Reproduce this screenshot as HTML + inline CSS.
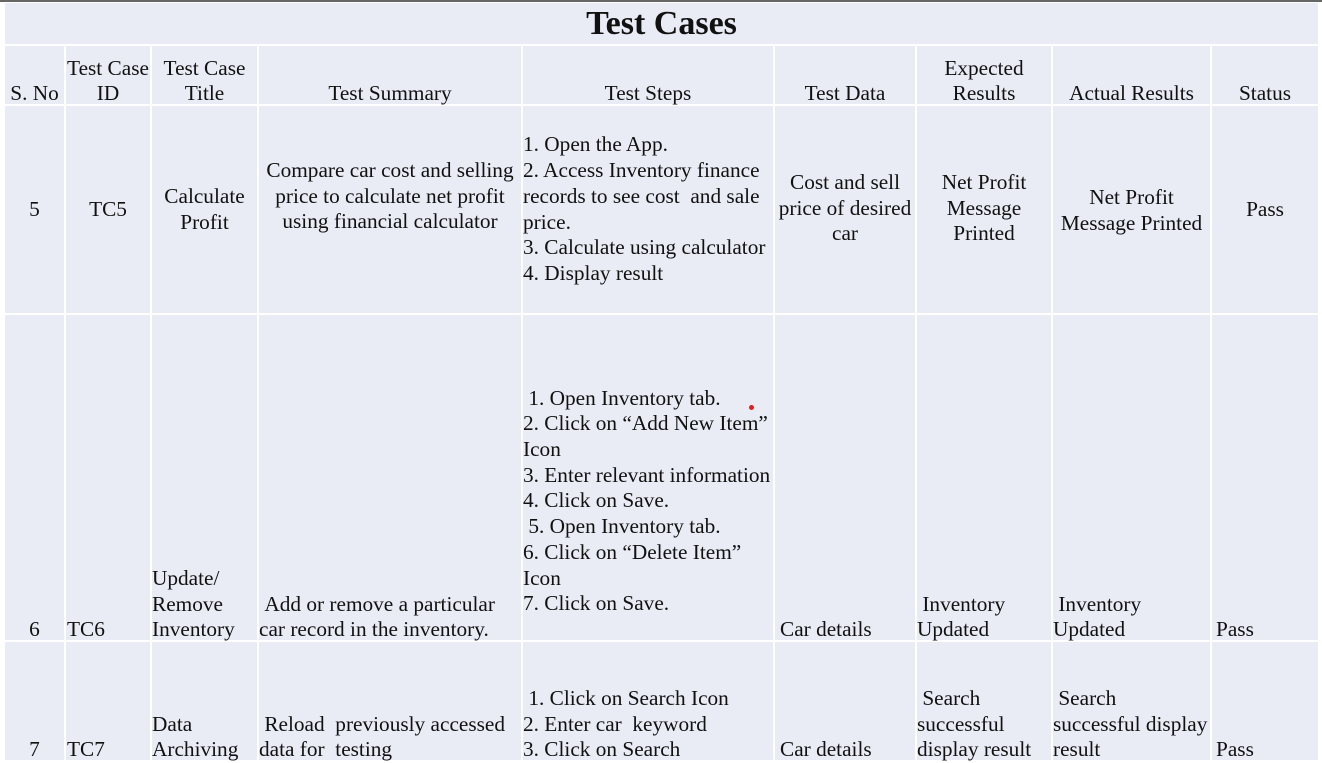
<!DOCTYPE html>
<html><head><style>
body{margin:0;width:1322px;height:763px;background:#fff;position:relative;overflow:hidden;font-family:"Liberation Serif","Times New Roman",serif;font-size:21.3px;color:#111;}
.c{position:absolute;background:#e9ebf5;display:flex;line-height:25.7px;box-sizing:border-box;padding:0 1px;white-space:pre-wrap;}
.c>div{position:relative;top:3px;}
.m>div{top:0;}
.b{align-items:flex-end;}
.m{align-items:center;}
.ctr{justify-content:center;text-align:center;}
.ctr>div{width:100%;}
</style></head><body>
<div style="position:absolute;left:0;top:0;width:1322px;height:2px;background:#666"></div>
<div class="c m ctr" style="left:5px;top:3px;width:1313px;height:41px;font-weight:bold;font-size:34px"><div style="top:0">Test Cases</div></div>

<!-- header -->
<div class="c b ctr" style="left:5px;top:46px;width:59px;height:58px"><div>S. No</div></div>
<div class="c b ctr" style="left:66px;top:46px;width:84px;height:58px"><div>Test Case<br>ID</div></div>
<div class="c b ctr" style="left:152px;top:46px;width:105px;height:58px"><div>Test Case<br>Title</div></div>
<div class="c b ctr" style="left:259px;top:46px;width:262px;height:58px"><div>Test Summary</div></div>
<div class="c b ctr" style="left:523px;top:46px;width:250px;height:58px"><div>Test Steps</div></div>
<div class="c b ctr" style="left:775px;top:46px;width:140px;height:58px"><div>Test Data</div></div>
<div class="c b ctr" style="left:917px;top:46px;width:134px;height:58px"><div>Expected<br>Results</div></div>
<div class="c b ctr" style="left:1053px;top:46px;width:157px;height:58px"><div>Actual Results</div></div>
<div class="c b ctr" style="left:1212px;top:46px;width:106px;height:58px"><div>Status</div></div>

<!-- row 5 -->
<div class="c m ctr" style="left:5px;top:106px;width:59px;height:207px"><div>5</div></div>
<div class="c m ctr" style="left:66px;top:106px;width:84px;height:207px"><div>TC5</div></div>
<div class="c m ctr" style="left:152px;top:106px;width:105px;height:207px"><div>Calculate<br>Profit</div></div>
<div class="c m ctr" style="left:259px;top:106px;width:262px;height:207px;padding-bottom:26px"><div>Compare car cost and selling<br>price to calculate net profit<br>using financial calculator</div></div>
<div class="c m" style="left:523px;top:106px;width:250px;height:207px;padding-left:0"><div>1. Open the App.
2. Access Inventory finance
records to see cost  and sale
price.
3. Calculate using calculator
4. Display result</div></div>
<div class="c m ctr" style="left:775px;top:106px;width:140px;height:207px;padding-bottom:2px"><div>Cost and sell<br>price of desired<br>car</div></div>
<div class="c m ctr" style="left:917px;top:106px;width:134px;height:207px;padding-bottom:2px"><div>Net Profit<br>Message<br>Printed</div></div>
<div class="c m ctr" style="left:1053px;top:106px;width:157px;height:207px;padding-top:2px"><div>Net Profit<br>Message Printed</div></div>
<div class="c m ctr" style="left:1212px;top:106px;width:106px;height:207px"><div>Pass</div></div>

<!-- row 6 -->
<div class="c b ctr" style="left:5px;top:315px;width:59px;height:325px"><div>6</div></div>
<div class="c b" style="left:66px;top:315px;width:84px;height:325px"><div>TC6</div></div>
<div class="c b" style="left:152px;top:315px;width:105px;height:325px;padding-left:0"><div>Update/
Remove
Inventory</div></div>
<div class="c b" style="left:259px;top:315px;width:262px;height:325px;padding-left:0"><div> Add or remove a particular
car record in the inventory.</div></div>
<div class="c b" style="left:523px;top:315px;width:250px;height:325px;padding-bottom:26px;padding-left:0"><div> 1. Open Inventory tab.
2. Click on “Add New Item”
Icon
3. Enter relevant information
4. Click on Save.
 5. Open Inventory tab.
6. Click on “Delete Item”
Icon
7. Click on Save.</div></div>
<div style="position:absolute;left:749px;top:405px;width:5px;height:5px;border-radius:50%;background:#e02020"></div>
<div class="c b" style="left:775px;top:315px;width:140px;height:325px;padding-left:5px"><div>Car details</div></div>
<div class="c b" style="left:917px;top:315px;width:134px;height:325px;padding-left:0"><div> Inventory
Updated</div></div>
<div class="c b" style="left:1053px;top:315px;width:157px;height:325px;padding-left:0"><div> Inventory
Updated</div></div>
<div class="c b" style="left:1212px;top:315px;width:106px;height:325px;padding-left:4px"><div>Pass</div></div>

<!-- row 7 -->
<div class="c b ctr" style="left:5px;top:642px;width:59px;height:118px"><div>7</div></div>
<div class="c b" style="left:66px;top:642px;width:84px;height:118px"><div>TC7</div></div>
<div class="c b" style="left:152px;top:642px;width:105px;height:118px;padding-left:0"><div>Data
Archiving</div></div>
<div class="c b" style="left:259px;top:642px;width:262px;height:118px;padding-left:0"><div> Reload  previously accessed
data for  testing</div></div>
<div class="c b" style="left:523px;top:642px;width:250px;height:118px;padding-left:0"><div> 1. Click on Search Icon
2. Enter car  keyword
3. Click on Search</div></div>
<div class="c b" style="left:775px;top:642px;width:140px;height:118px;padding-left:5px"><div>Car details</div></div>
<div class="c b" style="left:917px;top:642px;width:134px;height:118px;padding-left:0"><div> Search
successful
display result</div></div>
<div class="c b" style="left:1053px;top:642px;width:157px;height:118px;padding-left:0"><div> Search
successful display
result</div></div>
<div class="c b" style="left:1212px;top:642px;width:106px;height:118px;padding-left:4px"><div>Pass</div></div>
</body></html>
